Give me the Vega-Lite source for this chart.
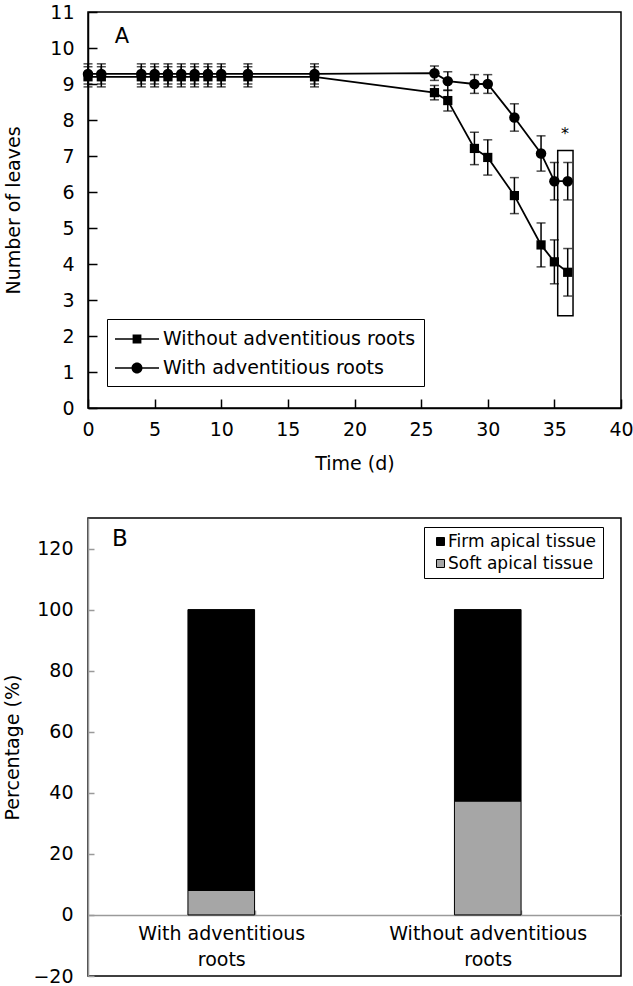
{
  "$schema": "https://vega.github.io/schema/vega-lite/v6.json",
  "padding": {"left": 3, "top": 2, "right": 4, "bottom": 0},
  "spacing": 43,
  "config": {
    "font": "DejaVu Sans",
    "view": {"stroke": "black", "strokeWidth": 1.5},
    "axis": {
      "labelFont": "DejaVu Sans", "titleFont": "DejaVu Sans",
      "labelColor": "black", "titleColor": "black",
      "titleFontWeight": "normal", "grid": false,
      "domainColor": "black", "tickColor": "black",
      "domainWidth": 1.5, "tickWidth": 1.5,
      "labelFontSize": 19, "titleFontSize": 19,
      "labelFlush": false, "labelOverlap": false
    },
    "legend": {"labelFont": "DejaVu Sans", "labelColor": "black", "labelLimit": 400}
  },
  "vconcat": [
    {
      "width": 533,
      "height": 396,
      "data": {"values": [
        {"series": "Without adventitious roots", "time": 0, "leaves": 9.2, "se": 0.28},
        {"series": "Without adventitious roots", "time": 1, "leaves": 9.2, "se": 0.28},
        {"series": "Without adventitious roots", "time": 4, "leaves": 9.2, "se": 0.28},
        {"series": "Without adventitious roots", "time": 5, "leaves": 9.2, "se": 0.28},
        {"series": "Without adventitious roots", "time": 6, "leaves": 9.2, "se": 0.28},
        {"series": "Without adventitious roots", "time": 7, "leaves": 9.2, "se": 0.28},
        {"series": "Without adventitious roots", "time": 8, "leaves": 9.2, "se": 0.28},
        {"series": "Without adventitious roots", "time": 9, "leaves": 9.2, "se": 0.28},
        {"series": "Without adventitious roots", "time": 10, "leaves": 9.2, "se": 0.28},
        {"series": "Without adventitious roots", "time": 12, "leaves": 9.2, "se": 0.28},
        {"series": "Without adventitious roots", "time": 17, "leaves": 9.2, "se": 0.28},
        {"series": "Without adventitious roots", "time": 26, "leaves": 8.76, "se": 0.2},
        {"series": "Without adventitious roots", "time": 27, "leaves": 8.54, "se": 0.29},
        {"series": "Without adventitious roots", "time": 29, "leaves": 7.21, "se": 0.45},
        {"series": "Without adventitious roots", "time": 30, "leaves": 6.96, "se": 0.49},
        {"series": "Without adventitious roots", "time": 32, "leaves": 5.9, "se": 0.5},
        {"series": "Without adventitious roots", "time": 34, "leaves": 4.53, "se": 0.61},
        {"series": "Without adventitious roots", "time": 35, "leaves": 4.06, "se": 0.61},
        {"series": "Without adventitious roots", "time": 36, "leaves": 3.77, "se": 0.66},
        {"series": "With adventitious roots", "time": 0, "leaves": 9.28, "se": 0.28},
        {"series": "With adventitious roots", "time": 1, "leaves": 9.28, "se": 0.28},
        {"series": "With adventitious roots", "time": 4, "leaves": 9.28, "se": 0.28},
        {"series": "With adventitious roots", "time": 5, "leaves": 9.28, "se": 0.28},
        {"series": "With adventitious roots", "time": 6, "leaves": 9.28, "se": 0.28},
        {"series": "With adventitious roots", "time": 7, "leaves": 9.28, "se": 0.28},
        {"series": "With adventitious roots", "time": 8, "leaves": 9.28, "se": 0.28},
        {"series": "With adventitious roots", "time": 9, "leaves": 9.28, "se": 0.28},
        {"series": "With adventitious roots", "time": 10, "leaves": 9.28, "se": 0.28},
        {"series": "With adventitious roots", "time": 12, "leaves": 9.28, "se": 0.28},
        {"series": "With adventitious roots", "time": 17, "leaves": 9.28, "se": 0.28},
        {"series": "With adventitious roots", "time": 26, "leaves": 9.3, "se": 0.2},
        {"series": "With adventitious roots", "time": 27, "leaves": 9.08, "se": 0.26},
        {"series": "With adventitious roots", "time": 29, "leaves": 9.0, "se": 0.26},
        {"series": "With adventitious roots", "time": 30, "leaves": 9.0, "se": 0.26},
        {"series": "With adventitious roots", "time": 32, "leaves": 8.07, "se": 0.38},
        {"series": "With adventitious roots", "time": 34, "leaves": 7.07, "se": 0.49},
        {"series": "With adventitious roots", "time": 35, "leaves": 6.3, "se": 0.52},
        {"series": "With adventitious roots", "time": 36, "leaves": 6.3, "se": 0.52}
      ]},
      "encoding": {
        "x": {"field": "time", "type": "quantitative", "title": "Time (d)",
          "scale": {"domain": [0, 40], "nice": false},
          "axis": {"values": [0, 5, 10, 15, 20, 25, 30, 35, 40], "title": "Time (d)",
            "tickSize": -9, "labelPadding": 21, "titlePadding": 15}},
        "y": {"field": "leaves", "type": "quantitative", "title": "Number of leaves",
          "scale": {"domain": [0, 11], "nice": false},
          "axis": {"values": [0, 1, 2, 3, 4, 5, 6, 7, 8, 9, 10, 11], "title": "Number of leaves",
            "tickSize": -9, "labelPadding": 23, "titlePadding": 26}}
      },
      "layer": [
        {
          "mark": {"type": "line", "color": "black", "strokeWidth": 1.8},
          "encoding": {"detail": {"field": "series"}}
        },
        {
          "mark": {"type": "errorbar", "color": "black", "ticks": {"size": 9, "thickness": 1.5}, "rule": {"strokeWidth": 1.5}},
          "encoding": {
            "yError": {"field": "se"},
            "detail": {"field": "series"}
          }
        },
        {
          "transform": [{"filter": "datum.series == 'Without adventitious roots'"}],
          "mark": {"type": "point", "filled": true, "color": "black", "opacity": 1, "size": 85, "shape": "square"}
        },
        {
          "transform": [{"filter": "datum.series == 'With adventitious roots'"}],
          "mark": {"type": "point", "filled": true, "color": "black", "opacity": 1, "size": 110, "shape": "circle"}
        },
        {
          "transform": [{"filter": "datum.time < 0"}],
          "mark": {"type": "point", "filled": true, "color": "black", "opacity": 1},
          "encoding": {
            "shape": {"field": "series", "type": "nominal",
              "scale": {"domain": ["Without adventitious roots", "With adventitious roots"],
                "range": [
                  "M-2,-0.075H-0.4V0.075H-2ZM0.4,-0.075H2V0.075H0.4ZM-0.4,-0.4H0.4V0.4H-0.4Z",
                  "M-2,-0.075H-0.45V0.075H-2ZM0.45,-0.075H2V0.075H0.45ZM-0.5,0A0.5,0.5 0 1,1 0.5,0A0.5,0.5 0 1,1 -0.5,0Z"
                ]},
              "legend": {
                "title": null, "orient": "none", "legendX": 19, "legendY": 307,
                "strokeColor": "black", "fillColor": "white", "padding": 8,
                "labelFontSize": 19, "symbolSize": 484, "symbolOffset": 10, "labelOffset": 14,
                "rowPadding": 7, "symbolFillColor": "black"
              }}
          }
        },
        {
          "data": {"values": [{"x1": 35.25, "x2": 36.4, "y1": 2.56, "y2": 7.15}]},
          "mark": {"type": "rect", "fill": null, "fillOpacity": 0, "stroke": "black", "strokeWidth": 1.5},
          "encoding": {
            "x": {"field": "x1", "type": "quantitative"},
            "x2": {"field": "x2"},
            "y": {"field": "y1", "type": "quantitative"},
            "y2": {"field": "y2"}
          }
        },
        {
          "data": {"values": [{"time": 35.8, "leaves": 7.6, "label": "*"}]},
          "mark": {"type": "text", "fontSize": 16, "color": "black", "baseline": "middle", "align": "center"},
          "encoding": {"text": {"field": "label"}}
        },
        {
          "data": {"values": [{"time": 2.55, "leaves": 10.3, "label": "A"}]},
          "mark": {"type": "text", "fontSize": 21, "color": "black", "baseline": "middle", "align": "center"},
          "encoding": {"text": {"field": "label"}}
        }
      ]
    },
    {
      "width": 533,
      "height": 458,
      "title": {"text": "B", "anchor": "start", "frame": "group", "offset": -51, "dx": 24, "fontSize": 23, "fontWeight": "normal", "baseline": "alphabetic", "color": "black", "font": "DejaVu Sans"},
      "data": {"values": [
        {"group": "With adventitious roots", "tissue": "Soft apical tissue", "pct": 8},
        {"group": "With adventitious roots", "tissue": "Firm apical tissue", "pct": 92},
        {"group": "Without adventitious roots", "tissue": "Soft apical tissue", "pct": 37.3},
        {"group": "Without adventitious roots", "tissue": "Firm apical tissue", "pct": 62.7}
      ]},
      "mark": {"type": "bar", "stroke": "black", "strokeWidth": 1},
      "encoding": {
        "x": {"field": "group", "type": "nominal", "sort": null,
          "scale": {"paddingInner": 0.75, "paddingOuter": 0.375},
          "axis": {"title": null, "labelAngle": 0, "offset": -61, "domainColor": "#9a9a9a", "tickColor": "#9a9a9a",
            "tickBand": "extent", "tickSize": -5, "labelLimit": 300,
            "labelExpr": "datum.label ? [replace(datum.label, ' roots', ''), 'roots'] : ''",
            "labelLineHeight": 26, "labelPadding": 14, "labelBaseline": "top"}},
        "y": {"field": "pct", "type": "quantitative", "stack": "zero",
          "scale": {"domain": [-20, 130], "nice": false, "zero": false},
          "axis": {"values": [-20, 0, 20, 40, 60, 80, 100, 120], "title": "Percentage (%)",
            "domainColor": "#9a9a9a", "tickColor": "#9a9a9a", "tickSize": -6, "labelPadding": 21, "titlePadding": 10}},
        "color": {"field": "tissue", "type": "nominal",
          "scale": {"domain": ["Firm apical tissue", "Soft apical tissue"], "range": ["black", "#a6a6a6"]},
          "legend": {"title": null, "orient": "none", "legendX": 336, "legendY": 515,
            "strokeColor": "black", "fillColor": "white", "padding": 6, "labelFontSize": 17,
            "symbolType": "square", "symbolSize": 64, "symbolStrokeWidth": 1, "symbolStrokeColor": "black",
            "symbolOffset": 2, "labelOffset": -1, "rowPadding": 4}},
        "order": {"field": "tissue", "sort": "descending"}
      }
    }
  ]
}
